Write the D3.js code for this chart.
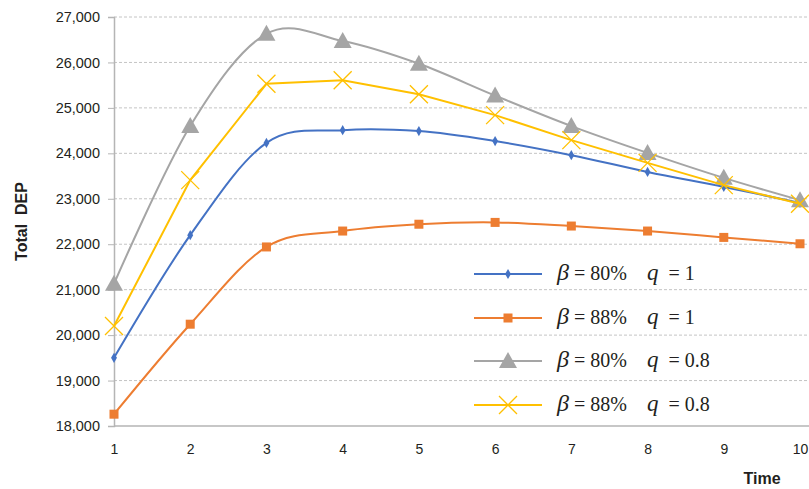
<!DOCTYPE html>
<html>
<head>
<meta charset="utf-8">
<script src="https://cdn.jsdelivr.net/npm/d3@7"></script>
<style>
  body { margin: 0; background: #fff; }
  svg { display: block; }
</style>
</head>
<body>
<div id="chart"></div>
<script>
// data
const times = [1, 2, 3, 4, 5, 6, 7, 8, 9, 10];
const yTicks = [18000, 19000, 20000, 21000, 22000, 23000, 24000, 25000, 26000, 27000];
const blueVals = [19500, 22200, 24230, 24510, 24490, 24270, 23960, 23590, 23260, 22910];
const orangeVals = [18260, 20240, 21940, 22290, 22440, 22480, 22400, 22290, 22150, 22010];
const grayVals = [21130, 24600, 26630, 26470, 25970, 25270, 24600, 24010, 23460, 22970];
const yellowVals = [20200, 23410, 25530, 25610, 25300, 24840, 24290, 23790, 23300, 22890];
const seriesNames = [
  { beta: '80%', q: '1' },
  { beta: '88%', q: '1' },
  { beta: '80%', q: '0.8' },
  { beta: '88%', q: '0.8' }
];

const width = 809, height = 489;
const margin = { top: 17, right: 9, bottom: 63, left: 114 };
const sans = "'Liberation Sans', Arial, sans-serif";
const serif = "'Liberation Serif', 'DejaVu Serif', serif";

const svg = d3.select('#chart').append('svg')
  .attr('width', width)
  .attr('height', height);

const x = d3.scaleLinear().domain([1, 10]).range([margin.left, 800]);
const y = d3.scaleLinear().domain([18000, 27000]).range([height - margin.bottom, margin.top]);

// gridlines
svg.append('g').selectAll('line')
  .data(yTicks.slice(1))
  .enter().append('line')
  .attr('x1', margin.left).attr('x2', width)
  .attr('y1', d => y(d)).attr('y2', d => y(d))
  .attr('stroke', '#c4c4c4')
  .attr('stroke-width', 1)
  .attr('stroke-dasharray', '3,2');

// y axis
const yAxis = svg.append('g')
  .attr('transform', 'translate(' + margin.left + ',0)')
  .call(d3.axisLeft(y).tickValues(yTicks).tickFormat(d3.format(',')).tickSize(6).tickPadding(8));
yAxis.select('.domain').attr('stroke', '#b5b5b5').attr('stroke-width', 1.5);
yAxis.selectAll('.tick line').attr('stroke', '#b5b5b5');
yAxis.selectAll('text')
  .attr('font-family', sans)
  .attr('font-size', 14.5)
  .attr('fill', '#231f20');

// x axis
const xAxis = svg.append('g')
  .attr('transform', 'translate(0,' + y(18000) + ')')
  .call(d3.axisBottom(x).tickValues(times).tickSize(0).tickPadding(18));
xAxis.select('.domain').attr('stroke', '#b5b5b5').attr('stroke-width', 1.5)
  .attr('d', 'M' + margin.left + ',0H' + width);
xAxis.selectAll('text')
  .attr('font-family', sans)
  .attr('font-size', 14)
  .attr('fill', '#231f20');

// axis titles
svg.append('text')
  .attr('transform', 'translate(27,' + y(22500) + ') rotate(-90)')
  .attr('text-anchor', 'middle')
  .attr('font-family', sans)
  .attr('font-weight', 'bold')
  .attr('font-size', 16)
  .attr('fill', '#231f20')
  .attr('xml:space', 'preserve')
  .text('Total  DEP');

svg.append('text')
  .attr('x', 762).attr('y', 484)
  .attr('text-anchor', 'middle')
  .attr('font-family', sans)
  .attr('font-weight', 'bold')
  .attr('font-size', 16)
  .attr('fill', '#231f20')
  .text('Time');

const series = [
  { vals: blueVals, color: '#4472c4', marker: 'diamond', curve: d3.curveCardinal.tension(0) },
  { vals: orangeVals, color: '#ed7d31', marker: 'square', curve: d3.curveCardinal.tension(0) },
  { vals: grayVals, color: '#a5a5a5', marker: 'triangle', curve: d3.curveCardinal.tension(0) },
  { vals: yellowVals, color: '#ffc000', marker: 'x', curve: d3.curveLinear }
];

function drawMarker(g, type, color, cx, cy) {
  if (type === 'diamond') {
    g.append('path').attr('d', d3.symbol(d3.symbolDiamond, 30)())
      .attr('transform', 'translate(' + cx + ',' + cy + ')').attr('fill', color);
  } else if (type === 'square') {
    g.append('rect').attr('x', cx - 4.5).attr('y', cy - 4.5)
      .attr('width', 9).attr('height', 9).attr('fill', color);
  } else if (type === 'triangle') {
    g.append('path').attr('d', 'M0,-9L9,7L-9,7Z')
      .attr('transform', 'translate(' + cx + ',' + cy + ')').attr('fill', color);
  } else {
    g.append('path').attr('d', 'M-9,-9L9,9M-9,9L9,-9')
      .attr('transform', 'translate(' + cx + ',' + cy + ')')
      .attr('stroke', color).attr('stroke-width', 1.3).attr('fill', 'none');
  }
}

series.forEach(s => {
  const line = d3.line()
    .x((d, i) => x(times[i]))
    .y(d => y(d))
    .curve(s.curve);
  svg.append('path')
    .datum(s.vals)
    .attr('d', line)
    .attr('fill', 'none')
    .attr('stroke', s.color)
    .attr('stroke-width', 2);
  const mg = svg.append('g');
  s.vals.forEach((v, i) => drawMarker(mg, s.marker, s.color, x(times[i]), y(v)));
});

// legend
const legendY = [274, 318, 361, 405];
series.forEach((s, i) => {
  const g = svg.append('g').attr('transform', 'translate(474,' + legendY[i] + ')');
  g.append('line').attr('x1', 0).attr('x2', 68).attr('y1', 0).attr('y2', 0)
    .attr('stroke', s.color).attr('stroke-width', 2);
  drawMarker(g, s.marker, s.color, 34, 0);
  const t = g.append('text')
    .attr('x', 83).attr('y', 6)
    .attr('font-family', serif)
    .attr('font-size', 20)
    .attr('fill', '#231f20')
    .attr('xml:space', 'preserve');
  t.append('tspan').attr('font-style', 'italic').attr('font-size', 24).text('β');
  t.append('tspan').text(' = ' + seriesNames[i].beta + '    ');
  t.append('tspan').attr('font-style', 'italic').attr('font-size', 23).text('q');
  t.append('tspan').text('  = ' + seriesNames[i].q);
});
</script>
</body>
</html>
